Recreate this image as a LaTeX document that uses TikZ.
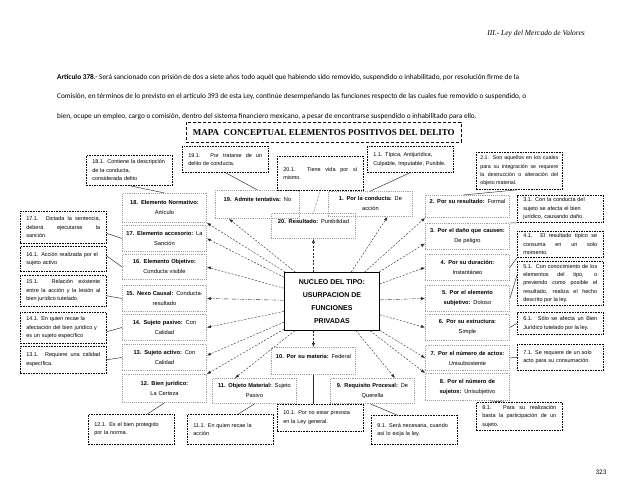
\documentclass[tikz,border=0pt]{standalone}
\usepackage{fontspec}
\setmainfont{Liberation Sans}
\newfontfamily\tnr{Liberation Serif}
\newfontfamily\cali{Carlito}
\usetikzlibrary{arrows.meta,calc}
\hyphenpenalty=10000
\exhyphenpenalty=10000
\begin{document}
\begin{tikzpicture}[x=1pt,y=-1pt,
  mb/.style={draw=gray!75, densely dotted, line width=0.9pt, inner sep=1pt, align=center,
    text width=82pt, minimum width=84pt, font=\fontsize{5.7}{10}\selectfont, anchor=north west},
  nb/.style={draw=black, dash pattern=on 1.6pt off 1pt, line width=0.6pt, inner xsep=6pt, inner ysep=2.5pt, align=left,
    text width=74pt, minimum width=86pt, font=\fontsize{5.5}{8.5}\selectfont, anchor=north west},
  nj/.style={nb, align=justify},
  art/.style={font=\cali\fontsize{7.3}{8}\selectfont, anchor=base west, inner sep=0pt},
  ar/.style={-{Latex[length=4pt,width=3pt]}, line width=0.4pt, dash pattern=on 2pt off 1.5pt, draw=black!85},
  ard/.style={ar, dash pattern=on 4pt off 1.5pt on 1pt off 1.5pt},
  ln/.style={line width=0.45pt, draw=black!85}
]
\useasboundingbox (0,0) rectangle (638,493);

% header and article
\node[font=\tnr\itshape\fontsize{7.5}{9}\selectfont, anchor=base east, inner sep=0pt] (hdr) at (585,35) {III.- Ley del Mercado de Valores};
\node[art] (l1) at (57,79) {\textbf{Artículo 378}.- Será sancionado con prisión de dos a siete años todo aquél que habiendo sido removido, suspendido o inhabilitado, por resolución firme de la};
\node[art] (l2) at (57,98.5) {Comisión, en términos de lo previsto en el artículo 393 de esta Ley, continúe desempeñando las funciones respecto de las cuales fue removido o suspendido, o};
\node[art] (l3) at (57,118) {bien, ocupe un empleo, cargo o comisión, dentro del sistema financiero mexicano, a pesar de encontrarse suspendido o inhabilitado para ello.};

% title
\node[draw, dash pattern=on 3pt off 2pt, line width=0.6pt, minimum width=275pt, minimum height=20pt,
  font=\tnr\bfseries\fontsize{9}{10}\selectfont, anchor=north west] (title) at (186,122) {MAPA\ \ CONCEPTUAL ELEMENTOS POSITIVOS DEL DELITO};

% nucleus
\node[draw, line width=0.8pt, minimum width=95pt, minimum height=58pt, align=center,
  font=\bfseries\fontsize{7}{12.8}\selectfont, anchor=north west] (nuc) at (284,272) {NUCLEO DEL TIPO:\\USURPACION DE\\FUNCIONES\\PRIVADAS};

% main boxes left
\node[mb, minimum height=29pt] (b18) at (122,193) {\textbf{18. Elemento Normativo:}\\Artículo};
\node[mb, minimum height=26pt] (b17) at (122,225) {\textbf{17. Elemento accesorio:} La\\Sanción};
\node[mb, minimum height=25pt] (b16) at (122,254) {\textbf{16. Elemento Objetivo:}\\Conducta visible};
\node[mb, minimum height=26pt] (b15) at (122,285) {\textbf{15. Nexo Causal:} Conducta-\\resultado};
\node[mb, minimum height=26pt] (b14) at (122,314) {\textbf{14. Sujeto pasivo:} Con\\Calidad};
\node[mb, minimum height=26pt] (b13) at (122,344) {\textbf{13. Sujeto activo:} Con\\Calidad};
\node[mb, minimum height=28pt] (b12) at (122,374) {\textbf{12. Bien jurídico:}\\La Certeza};
% top
\node[mb, minimum height=28pt] (b19) at (215,190) {\textbf{19. Admite tentativa:} No\\~};
\node[mb, minimum height=25pt] (b20) at (271,213) {\textbf{20. Resultado:} Punibilidad\\~};
\node[mb, minimum height=25pt] (b1) at (328,191) {\textbf{1. Por la conducta:} De\\acción};
% right
\node[mb, minimum height=22pt] (b2) at (425,195) {\textbf{2. Por su resultado:} Formal\\~};
\node[mb, minimum height=26pt] (b3) at (425,223) {\textbf{3. Por el daño que causen:}\\De peligro};
\node[mb, minimum height=26pt] (b4) at (425,254) {\textbf{4. Por su duración:}\\Instantáneo};
\node[mb, minimum height=26pt] (b5) at (425,285) {\textbf{5. Por el elemento}\\\textbf{subjetivo:} Doloso};
\node[mb, minimum height=26pt] (b6) at (425,314) {\textbf{6. Por su estructura:}\\Simple};
\node[mb, minimum height=25pt] (b7) at (425,345) {\textbf{7. Por el número de actos:}\\Unisubsistente};
\node[mb, minimum height=27pt] (b8) at (425,373) {\textbf{8. Por el número de}\\\textbf{sujetos:} Unisubjetivo};
% bottom
\node[mb, minimum height=27pt] (b10) at (271,347) {\textbf{10. Por su materia:} Federal\\~};
\node[mb, minimum height=25pt] (b11) at (212,378) {\textbf{11. Objeto Material:} Sujeto\\Pasivo};
\node[mb, minimum height=25pt] (b9) at (330,378) {\textbf{9. Requisito Procesal:} De\\Querella};

% notes
\node[nb, minimum height=30pt] (n181) at (86,155) {18.1. Contiene la descripción\\de la conducta,\\considerada delito};
\node[nj, minimum height=26pt] (n191) at (182,146) {19.1. Por tratarse de un\linebreak delito de conducta.};
\node[nj, minimum height=34pt] (n201) at (277,156) {20.1. Tiene vida por sí\linebreak mismo.};
\node[nb, minimum height=26pt] (n11) at (367,146) {1.1. Típica, Antijurídica,\\Culpable, Imputable, Punible.};
\node[nj, minimum height=37pt, inner xsep=4pt, text width=78pt, font=\fontsize{5.3}{8.2}\selectfont] (n21) at (476,152) {2.1. Son aquellos en los cuales\linebreak para su integración se requiere\linebreak la destrucción o alteración del\linebreak objeto material.};
\node[nb, minimum height=26pt] (n31) at (517,195) {3.1. Con la conducta del\\sujeto se afecta el bien\\jurídico, causando daño.};
\node[nj, minimum height=25pt] (n41) at (517,231) {4.1. El resultado típico se\linebreak consuma en un solo\linebreak momento.};
\node[nj, minimum height=44pt, inner ysep=1.5pt, font=\fontsize{5.5}{8.3}\selectfont] (n51) at (517,261) {5.1. Con conocimiento de los\linebreak elementos del tipo, o\linebreak previendo como posible el\linebreak resultado, realiza el hecho\linebreak descrito por la ley.};
\node[nj, minimum height=22pt] (n61) at (517,312) {6.1. Sólo se afecta un Bien\linebreak Jurídico tutelado por la ley.};
\node[nb, minimum height=26pt] (n71) at (517,344) {7.1. Se requiere de un solo\\acto para su consumación.};
\node[nj, minimum height=28pt] (n81) at (476,402) {8.1. Para su realización\linebreak basta la participación de un\linebreak sujeto.};
\node[nb, minimum height=29pt] (n91) at (371,415) {9.1. Será necesaria, cuando\\así lo exija la ley.};
\node[nb, minimum height=27pt] (n101) at (277,404) {10.1. Por no estar prevista\\en la Ley general.};
\node[nb, minimum height=30pt] (n111) at (187,414) {11.1. En quien recae la\\acción};
\node[nb, minimum height=30pt] (n121) at (88,414) {12.1. Es el bien protegido\\por la norma.};
\node[nj, minimum height=27pt] (n131) at (20,346) {13.1. Requiere una calidad\linebreak específica.};
\node[nb, minimum height=31pt] (n141) at (20,312) {14.1. En quien recae la\\afectación del bien jurídico y\\es un sujeto específico};
\node[nj, minimum height=31pt] (n151) at (20,275) {15.1. Relación existente\linebreak entre la acción y la lesión al\linebreak bien jurídico tutelado.};
\node[nb, minimum height=25pt] (n161) at (20,246) {16.1. Acción realizada por el\\sujeto activo};
\node[nj, minimum height=32pt] (n171) at (20,211) {17.1. Dictada la sentencia,\linebreak deberá ejecutarse la\linebreak sanción.};

\node[font=\cali\fontsize{7}{8}\selectfont] (pg) at (601,472) {323};

% note connectors
\draw[ln] (n181.south) -- (b18.north);
\draw[ln] (n191.south) -- (b19.north);
\draw[ln, densely dotted] (n201.south) -- (b20.north);
\draw[ln] (n11.south) -- (b1.north);
\draw[ln] (n21.south) -- ($(b2.north)+(-4,0)$);
\draw[ln] (n31.south west) -- (b3.north east);
\draw[ln] (n41.south west) -- (b4.east);
\draw[ln] ($(n51.west)+(0,-8)$) -- (b5.east);
\draw[ln] (n61.west) -- (b6.east);
\draw[ln] (b7.east) -- (n71.west);
\draw[ln] ($(b8.south east)+(-20,0)$) -- ($(n81.north west)+(28,0)$);
\draw[ln] ($(b9.south)+(-2,0)$) -- ($(n91.north west)+(26,0)$);
\draw[ln] (b10.south) -- (n101.north -| b10.south);
\draw[ln] (b11.south) -- ($(n111.north)+(8,0)$);
\draw[ln] (b12.south) -- ($(n121.north)+(16,0)$);
\draw[ln] (n131.east) -- (b13.west);
\draw[ln] ($(n141.east)+(0,4)$) -- (b14.west);
\draw[ln] ($(n151.east)+(0,5)$) -- (b15.west);
\draw[ln] ($(n161.east)+(0,-3)$) -- (b16.west);
\draw[ln] ($(n171.east)+(0,6)$) -- (b17.west);

% arrows from nucleus
\draw[ar] (nuc) -- (b18.south east);
\draw[ar] (nuc) -- ($(b19.south west)+(14,0)$);
\draw[ar] (nuc) -- (b17.east);
\draw[ar] (nuc) -- (b16.east);
\draw[ard] (nuc) -- (b15.east);
\draw[ar] (nuc) -- (b14.east);
\draw[ar] (nuc) -- ($(b13.east)+(0,-2)$);
\draw[ar] (nuc) -- (b12.north east);
\draw[ar] (nuc) -- ($(b11.north west)+(23,0)$);
\draw[ar] (nuc.south -| b10.north) -- (b10.north);
\draw[ar] (nuc) -- ($(b9.north east)+(-20,0)$);
\draw[ar] (nuc) -- (b8.north west);
\draw[ar] (nuc) -- (b7.west);
\draw[ar] (nuc) -- (b6.west);
\draw[ard] (nuc) -- (b5.west);
\draw[ar] (nuc) -- (b4.west);
\draw[ar] (nuc) -- ($(b3.west)+(0,7)$);
\draw[ar] (nuc) -- (b2.south west);
\draw[ar] (nuc) -- ($(b1.south)+(17,0)$);
\draw[ar] (nuc.north -| b20.south) -- (b20.south);
\end{tikzpicture}
\end{document}
